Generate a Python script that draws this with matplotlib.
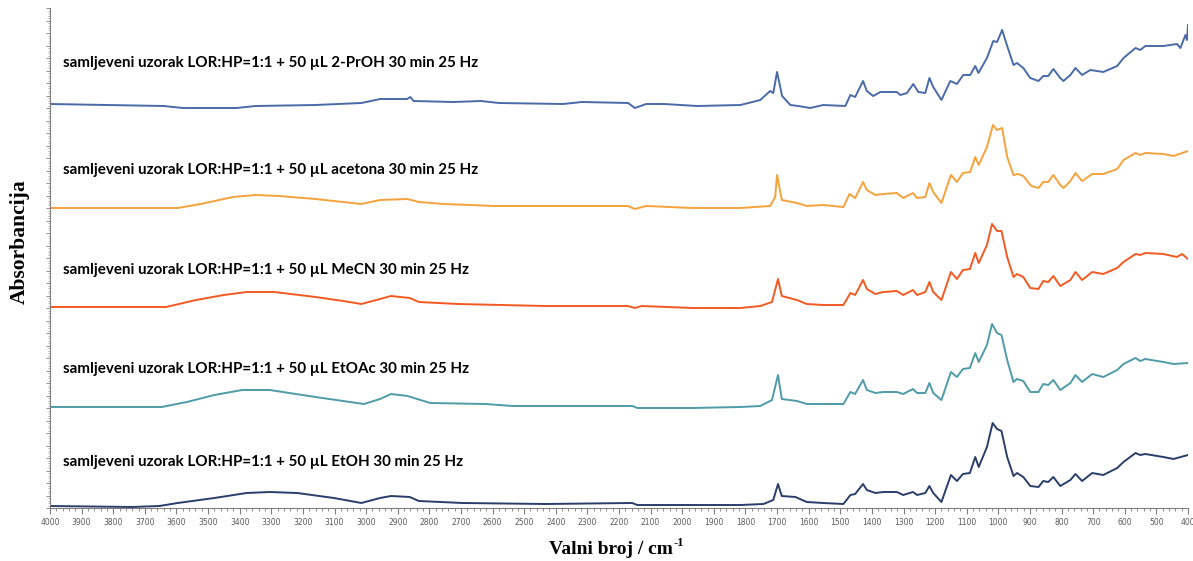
import numpy as np
import matplotlib.pyplot as plt
from matplotlib.ticker import MultipleLocator

# wavenumbers (cm-1) and absorbance, relative to each baseline
wn_prop = [4000, 3640, 3580, 3410, 3350, 3160, 3015, 2955, 2870, 2860, 2850, 2725, 2636, 2580,
           2377, 2317, 2171, 2150, 2114, 2057, 1953, 1816, 1753, 1722, 1712, 1700, 1684, 1658,
           1633, 1595, 1554, 1484, 1468, 1453, 1428, 1416, 1396, 1373, 1321, 1310, 1289, 1269,
           1253, 1231, 1218, 1206, 1180, 1152, 1131, 1111, 1089, 1073, 1063, 1036, 1016, 1004,
           988, 972, 952, 941, 921, 899, 873, 858, 842, 826, 804, 794, 772, 756, 735, 709, 668,
           624, 604, 566, 551, 535, 478, 435, 424, 408, 403, 400]
a_prop = [0.00, -0.02, -0.04, -0.04, -0.02, -0.01, 0.01, 0.05, 0.05, 0.07, 0.03, 0.02, 0.03, 0.01,
          0.00, 0.02, 0.01, -0.04, 0.00, 0.00, -0.02, -0.01, 0.04, 0.13, 0.11, 0.32, 0.08, -0.01,
          -0.02, -0.04, -0.01, -0.02, 0.09, 0.07, 0.23, 0.13, 0.08, 0.12, 0.12, 0.09, 0.11, 0.20,
          0.12, 0.11, 0.26, 0.17, 0.04, 0.23, 0.20, 0.29, 0.29, 0.38, 0.31, 0.46, 0.63, 0.62,
          0.74, 0.58, 0.39, 0.41, 0.36, 0.26, 0.23, 0.28, 0.28, 0.35, 0.26, 0.23, 0.29, 0.36, 0.29, 0.34, 0.32,
          0.38, 0.46, 0.56, 0.54, 0.58, 0.58, 0.60, 0.56, 0.69, 0.64, 0.79]

wn_acet = [4000, 3596, 3523, 3421, 3349, 3276, 3160, 3073, 3015, 2956, 2869, 2833, 2753, 2593,
           2172, 2150, 2114, 1968, 1816, 1722, 1706, 1700, 1685, 1637, 1606, 1554, 1490, 1471,
           1453, 1428, 1416, 1389, 1364, 1321, 1301, 1270, 1257, 1231, 1218, 1206, 1180, 1150,
           1131, 1112, 1089, 1073, 1062, 1036, 1017, 1004, 988, 972, 952, 937, 921, 896, 873,
           858, 842, 826, 804, 794, 772, 756, 735, 703, 668, 624, 604, 566, 551, 535, 478, 446, 400]
a_acet = [0.00, 0.00, 0.04, 0.11, 0.13, 0.12, 0.09, 0.06, 0.04, 0.08, 0.09, 0.06, 0.04, 0.02,
          0.02, -0.01, 0.02, 0.00, 0.00, 0.02, 0.11, 0.33, 0.08, 0.05, 0.02, 0.03, 0.01, 0.14,
          0.10, 0.26, 0.18, 0.13, 0.14, 0.15, 0.10, 0.15, 0.10, 0.11, 0.25, 0.16, 0.05, 0.33,
          0.26, 0.35, 0.36, 0.51, 0.43, 0.61, 0.83, 0.78, 0.80, 0.51, 0.33, 0.34, 0.32, 0.22, 0.20,
          0.26, 0.26, 0.33, 0.23, 0.20, 0.27, 0.35, 0.27, 0.34, 0.34, 0.39, 0.48, 0.55, 0.53, 0.55, 0.54, 0.52, 0.57]

wn_mecn = [4000, 3633, 3538, 3450, 3378, 3291, 3160, 3073, 3015, 2956, 2921, 2862, 2833, 2709,
           2434, 2172, 2150, 2128, 1968, 1816, 1753, 1716, 1697, 1685, 1637, 1606, 1554, 1490,
           1468, 1453, 1428, 1416, 1389, 1364, 1321, 1301, 1270, 1257, 1231, 1218, 1206, 1180,
           1150, 1131, 1112, 1090, 1073, 1062, 1036, 1020, 1004, 990, 972, 952, 941, 921, 899,
           873, 858, 842, 826, 804, 772, 756, 735, 703, 668, 624, 604, 566, 551, 535, 478, 435, 419, 400]
a_mecn = [0.00, 0.00, 0.07, 0.12, 0.15, 0.15, 0.10, 0.06, 0.03, 0.08, 0.11, 0.09, 0.05, 0.03,
          0.01, 0.01, -0.01, 0.01, -0.01, -0.01, 0.01, 0.05, 0.28, 0.11, 0.07, 0.03, 0.02, 0.02,
          0.14, 0.12, 0.27, 0.18, 0.13, 0.15, 0.16, 0.12, 0.17, 0.12, 0.15, 0.25, 0.15, 0.07,
          0.35, 0.28, 0.37, 0.38, 0.54, 0.44, 0.62, 0.83, 0.76, 0.76, 0.50, 0.30, 0.33, 0.30, 0.19,
          0.18, 0.26, 0.25, 0.31, 0.21, 0.27, 0.35, 0.27, 0.35, 0.33, 0.39, 0.45, 0.53, 0.52, 0.54, 0.53, 0.50, 0.53, 0.48]

wn_etoac = [4000, 3647, 3567, 3480, 3392, 3305, 3160, 3073, 3007, 2956, 2921, 2869, 2797, 2623,
            2535, 2158, 2142, 1968, 1816, 1753, 1716, 1697, 1685, 1637, 1606, 1554, 1490, 1468,
            1453, 1428, 1416, 1389, 1364, 1321, 1301, 1270, 1257, 1231, 1218, 1206, 1180, 1150,
            1131, 1112, 1090, 1073, 1062, 1036, 1020, 1004, 990, 972, 952, 941, 921, 899, 873,
            858, 842, 826, 804, 772, 756, 735, 703, 668, 624, 604, 566, 551, 535, 478, 446, 400]
a_etoac = [0.00, 0.00, 0.05, 0.12, 0.17, 0.17, 0.10, 0.06, 0.03, 0.08, 0.13, 0.11, 0.04, 0.03,
           0.01, 0.01, -0.01, -0.01, 0.00, 0.01, 0.07, 0.32, 0.08, 0.06, 0.03, 0.03, 0.03, 0.15,
           0.13, 0.27, 0.17, 0.14, 0.15, 0.15, 0.13, 0.18, 0.14, 0.14, 0.24, 0.14, 0.07, 0.35,
           0.30, 0.38, 0.39, 0.54, 0.45, 0.62, 0.83, 0.74, 0.72, 0.47, 0.25, 0.28, 0.26, 0.15, 0.15,
           0.23, 0.22, 0.27, 0.17, 0.24, 0.32, 0.25, 0.33, 0.30, 0.37, 0.43, 0.49, 0.46, 0.48, 0.45, 0.43, 0.44]

wn_etoh = [4000, 3741, 3654, 3596, 3480, 3378, 3305, 3218, 3102, 3015, 2956, 2921, 2862, 2833,
           2695, 2434, 2158, 2142, 1968, 1816, 1743, 1712, 1697, 1685, 1642, 1606, 1554, 1490,
           1468, 1453, 1428, 1416, 1389, 1364, 1321, 1301, 1270, 1257, 1231, 1218, 1206, 1180,
           1150, 1131, 1112, 1090, 1073, 1062, 1036, 1018, 1004, 990, 972, 952, 941, 921, 899,
           873, 858, 842, 826, 804, 772, 756, 735, 703, 668, 624, 604, 566, 551, 535, 478, 446, 400]
a_etoh = [0.00, -0.01, 0.00, 0.03, 0.08, 0.13, 0.14, 0.13, 0.08, 0.03, 0.08, 0.10, 0.09, 0.05,
          0.03, 0.02, 0.03, 0.01, 0.01, 0.01, 0.02, 0.06, 0.22, 0.10, 0.09, 0.04, 0.03, 0.02,
          0.11, 0.12, 0.22, 0.16, 0.13, 0.14, 0.14, 0.11, 0.14, 0.11, 0.13, 0.20, 0.13, 0.04,
          0.31, 0.25, 0.32, 0.33, 0.49, 0.39, 0.59, 0.83, 0.77, 0.75, 0.49, 0.30, 0.33, 0.29, 0.20,
          0.19, 0.25, 0.24, 0.29, 0.20, 0.26, 0.32, 0.25, 0.33, 0.31, 0.38, 0.44, 0.53, 0.51, 0.52, 0.49, 0.47, 0.51]

labels = ["samljeveni uzorak LOR:HP=1:1 + 50 µL 2-PrOH 30 min 25 Hz",
          "samljeveni uzorak LOR:HP=1:1 + 50 µL acetona 30 min 25 Hz",
          "samljeveni uzorak LOR:HP=1:1 + 50 µL MeCN 30 min 25 Hz",
          "samljeveni uzorak LOR:HP=1:1 + 50 µL EtOAc 30 min 25 Hz",
          "samljeveni uzorak LOR:HP=1:1 + 50 µL EtOH 30 min 25 Hz"]

spectra = [(wn_prop, a_prop), (wn_acet, a_acet), (wn_mecn, a_mecn), (wn_etoac, a_etoac), (wn_etoh, a_etoh)]
offsets = [4.04, 3.00, 2.01, 1.01, 0.02]
colors = ["#4a6aa8", "#f5a23c", "#f25a22", "#4f9ba8", "#2b3d6b"]
label_y = [4.45, 3.38, 2.38, 1.39, 0.46]   # label heights (data units)

fig = plt.figure(figsize=(11.93, 5.61), dpi=100)
ax = fig.add_axes([50 / 1193, 53 / 561, 1138 / 1193, 500 / 561])

for (w, a), off, c in zip(spectra, offsets, colors):
    ax.plot(w, np.array(a) + off, color=c, lw=1.4)

for txt, y in zip(labels, label_y):
    ax.text(3960, y, txt, fontsize=10.9, fontweight="bold", family="Lato",
            color="black", va="center", ha="left")

ax.set_xlim(4000, 400)
ax.set_ylim(0, 5.0)
ax.xaxis.set_major_locator(MultipleLocator(100))
ax.xaxis.set_minor_locator(MultipleLocator(20))
ax.yaxis.set_major_locator(MultipleLocator(0.125))
ax.yaxis.set_minor_locator(MultipleLocator(0.025))
ax.tick_params(axis="x", which="major", length=4, width=0.8, color="#7f7f7f",
               labelsize=5.5, labelcolor="#595959", pad=3)
ax.tick_params(axis="x", which="minor", length=2, width=0.6, color="#7f7f7f")
ax.tick_params(axis="y", which="major", length=3, width=0.6, color="#7f7f7f", labelleft=False)
ax.tick_params(axis="y", which="minor", length=1.5, width=0.5, color="#9a9a9a")
for s in ["top", "right"]:
    ax.spines[s].set_visible(False)
for s in ["left", "bottom"]:
    ax.spines[s].set_color("#7f7f7f")
    ax.spines[s].set_linewidth(0.8)

fig.text(20 / 1193, 1 - 242 / 561, "Absorbancija", rotation=90, fontsize=15.5,
         fontweight="bold", family="Liberation Serif", ha="center", va="center")
fig.text(673 / 1193, 1 - 550 / 561, "Valni broj / cm", fontsize=14,
         fontweight="bold", family="Liberation Serif", ha="right", va="center")
fig.text(674 / 1193, 1 - 543 / 561, "-1", fontsize=9,
         fontweight="bold", family="Liberation Serif", ha="left", va="center")

fig.savefig("out.png", dpi=100)
